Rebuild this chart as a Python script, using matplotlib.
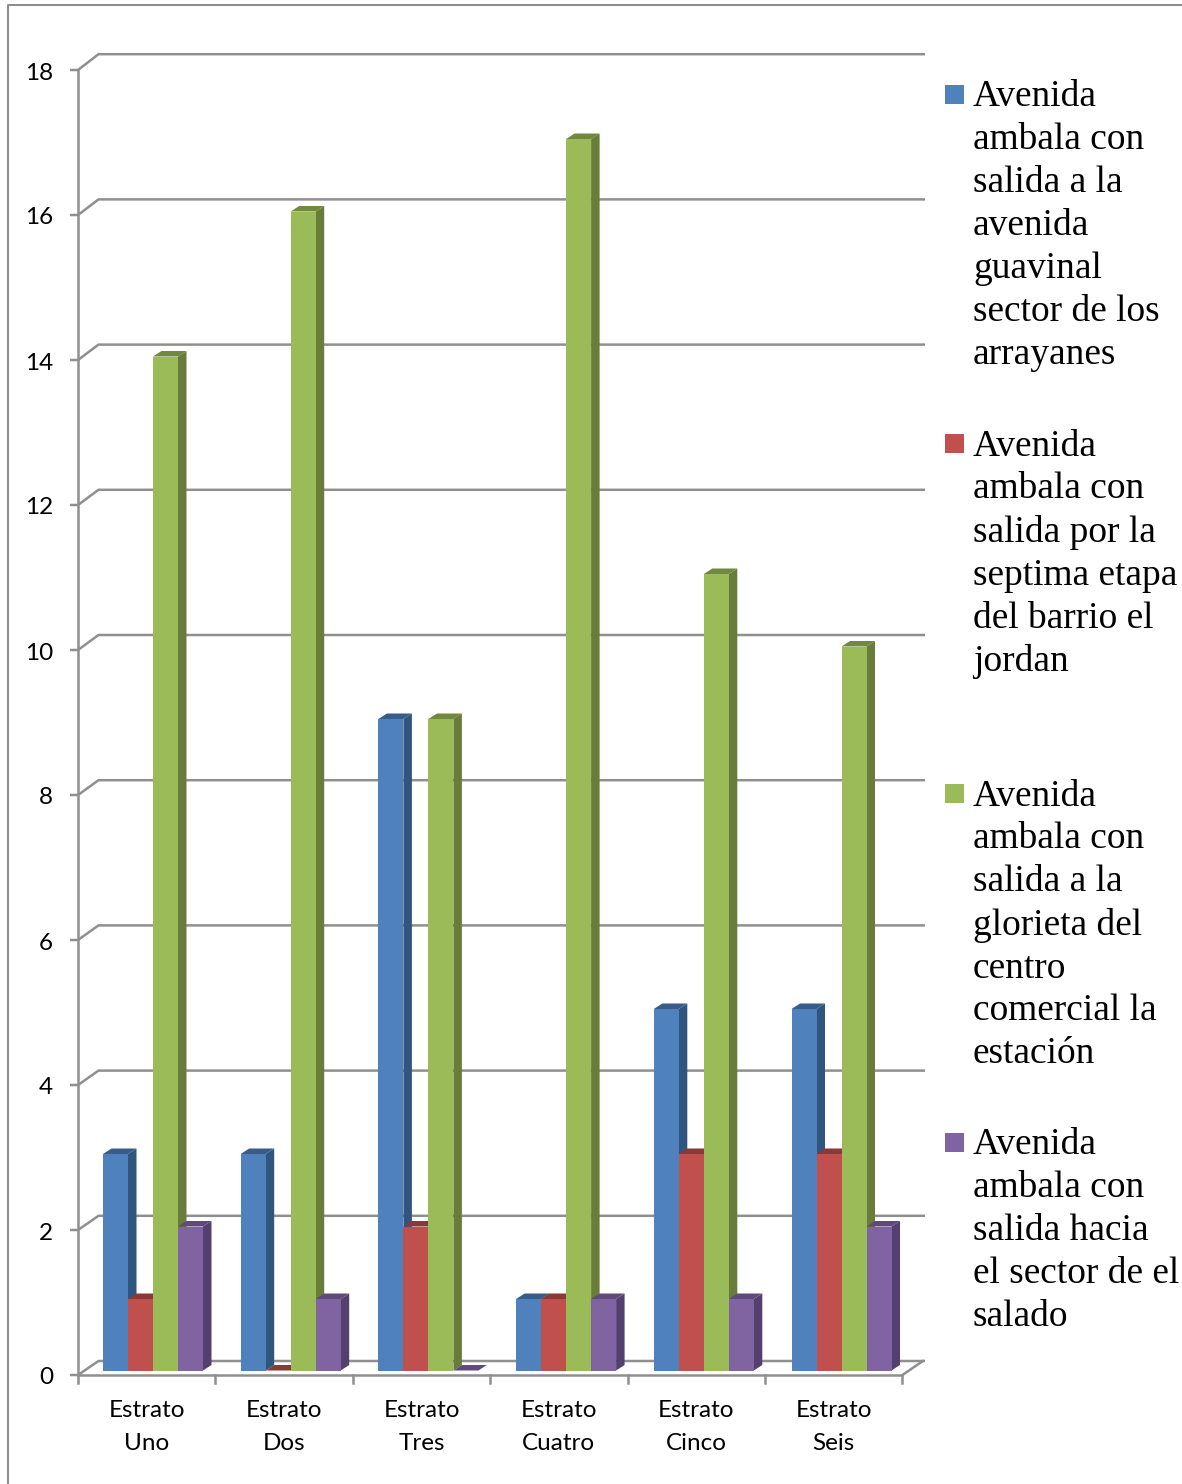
import matplotlib
matplotlib.use('Agg')
import matplotlib.pyplot as plt
from matplotlib.patches import Polygon, Rectangle

# Datos
categorias = ['Estrato\nUno', 'Estrato\nDos', 'Estrato\nTres', 'Estrato\nCuatro', 'Estrato\nCinco', 'Estrato\nSeis']
azul = [3, 3, 9, 1, 5, 5]
rojo = [1, 0, 2, 1, 3, 3]
verde = [14, 16, 9, 17, 11, 10]
morado = [2, 1, 0, 1, 1, 2]
series = [azul, rojo, verde, morado]
marcas_y = list(range(0, 20, 2))

leyenda = [
    'Avenida\nambala con\nsalida a la\navenida\nguavinal\nsector de los\narrayanes',
    'Avenida\nambala con\nsalida por la\nseptima etapa\ndel barrio el\njordan',
    'Avenida\nambala con\nsalida a la\nglorieta del\ncentro\ncomercial la\nestación',
    'Avenida\nambala con\nsalida hacia\nel sector de el\nsalado',
]

# Colores: frente, lado, tapa
frente = ['#4f81bd', '#c0504d', '#9bbb59', '#8064a2']
lado = ['#30557f', '#7f3331', '#677d39', '#54406f']
tapa = ['#385d8a', '#8c3836', '#71893f', '#5f4a79']
gris = '#8f8f8f'

W, H = 1182, 1484
px_x = 137.4  # pixeles por categoria
px_y = 72.5   # pixeles por unidad

fig = plt.figure(figsize=(W / 100, H / 100), dpi=100)
ax = fig.add_axes([0, 0, 1, 1])
ax.set_xlim(-78 / px_x, (W - 78) / px_x)
ax.set_ylim((1375 - H) / px_y, 1375 / px_y)
ax.axis('off')

# Pared del fondo
pared_dx = 20.5 / px_x
pared_dy = 14 / px_y
fin = 6.0
for v in marcas_y:
    yf = v * 72.6 / px_y + pared_dy
    ax.plot([-8 / px_x, 0, pared_dx, 847 / px_x], [v, v, yf, yf],
            color=gris, lw=1.8, zorder=1, solid_joinstyle='miter', solid_capstyle='butt')
ax.plot([fin, fin + pared_dx], [0, pared_dy], color=gris, lw=1.8, zorder=1)
ax.plot([0, 0], [0, 18], color=gris, lw=1.8, zorder=2)
ax.plot([0, fin], [0, 0], color=gris, lw=1.8, zorder=2)
for i in range(7):
    ax.plot([i, i], [0, -8 / px_y], color=gris, lw=1.8, zorder=2)

# Barras
ancho = 25 / px_x
margen = 25 / px_x
paso = 137.7 / px_x
base = 4.5 / px_y
ajuste = 3.5 / px_y
prof_x = 8.5 / px_x
prof_y = 5.5 / px_y
orden = 3
for i in range(len(categorias)):
    for s, valores in enumerate(series):
        v = valores[i]
        x0 = i * paso + margen + s * ancho
        x1 = x0 + ancho
        y0 = base
        y1 = ajuste + v if v > 0 else base
        ax.add_patch(Polygon([(x0, y1), (x1, y1), (x1 + prof_x, y1 + prof_y), (x0 + prof_x, y1 + prof_y)],
                             closed=True, fc=tapa[s], ec='none', zorder=orden))
        if v > 0:
            ax.add_patch(Polygon([(x1, y0), (x1 + prof_x, y0 + prof_y), (x1 + prof_x, y1 + prof_y), (x1, y1)],
                                 closed=True, fc=lado[s], ec='none', zorder=orden))
            ax.add_patch(Rectangle((x0, y0), ancho, y1 - y0, fc=frente[s], ec='none', zorder=orden + 0.5))
        orden += 1

# Etiquetas de ejes
fuente_eje = ['Lato', 'DejaVu Sans']
for v in marcas_y:
    ax.text(-25 / px_x, v - 3 / px_y, str(v), ha='right', va='center', fontsize=17.5, family=fuente_eje, color='black')
for i, c in enumerate(categorias):
    ax.text(i + 0.5, -25 / px_y, c, ha='center', va='top', fontsize=17.5, family=fuente_eje,
            color='black', linespacing=1.7)

# Leyenda
y_ley = [94, 443, 793, 1142]
for s, txt in enumerate(leyenda):
    y = y_ley[s]
    fig.patches.append(Rectangle((945 / W, 1 - (y + 10) / H), 19 / W, 19 / H, transform=fig.transFigure,
                                 fc=frente[s], ec='none', figure=fig))
    fig.text(973 / W, 1 - (y - 14) / H, txt, ha='left', va='top', fontsize=26.9,
             family='Liberation Serif', color='black', linespacing=1.315)

# Marco exterior
fig.add_artist(plt.Line2D([7.5 / W, 7.5 / W, 1], [0, 1 - 5 / H, 1 - 5 / H], color='#8a8a8a', lw=1.4))

fig.savefig('out.png', dpi=100)
